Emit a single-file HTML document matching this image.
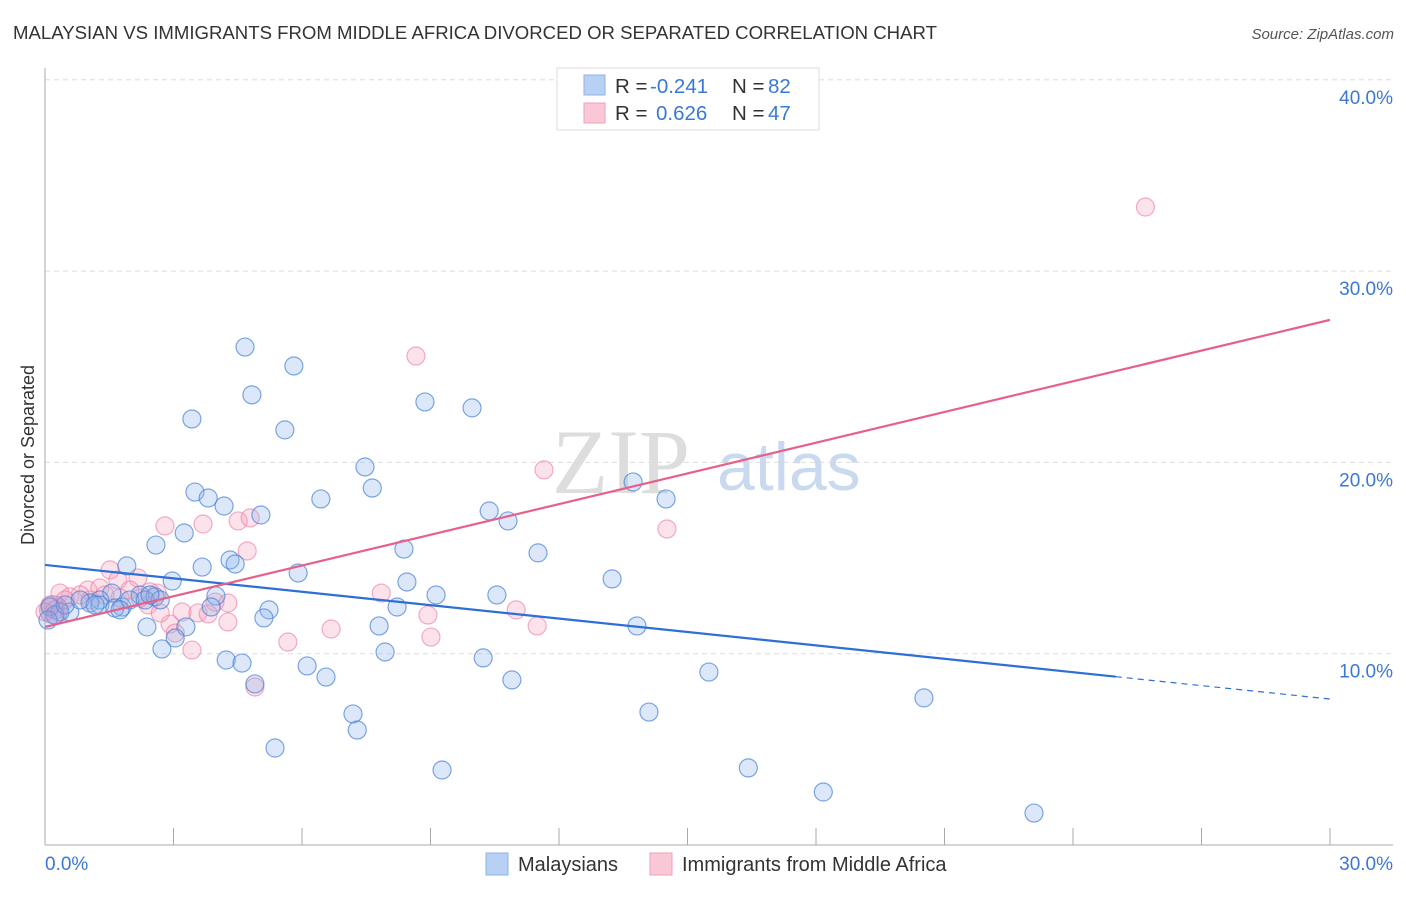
<!DOCTYPE html>
<html><head><meta charset="utf-8"><style>
body{margin:0;background:#fff;font-family:"Liberation Sans",sans-serif;}
svg text{font-family:"Liberation Sans",sans-serif;}
</style></head><body>
<svg id="chart" width="1406" height="892" xmlns="http://www.w3.org/2000/svg">
<text x="13" y="39" font-size="18.6" fill="#333">MALAYSIAN VS IMMIGRANTS FROM MIDDLE AFRICA DIVORCED OR SEPARATED CORRELATION CHART</text>
<text x="1394" y="39" font-size="15" fill="#555" text-anchor="end" font-style="italic">Source: ZipAtlas.com</text>
<g>
<text x="552" y="493" font-size="92" fill="#ddd" font-family="Liberation Serif" style="font-family:'Liberation Serif',serif">ZIP</text>
<text x="717" y="490" font-size="68" fill="#c8d9f0">atlas</text>
</g>
<g id="grid"></g>
<g id="axes"></g>
<text transform="translate(34,455) rotate(-90)" font-size="18" fill="#333" text-anchor="middle">Divorced or Separated</text>
<g id="points"></g>
<g id="lines"></g>
<g>
<rect x="557" y="68" width="262" height="62" fill="#fff" stroke="#ddd"/>
<rect x="584" y="75" width="21" height="20" fill="#b7d0f4" stroke="#8db3e8"/>
<rect x="584" y="103" width="21" height="20" fill="#f9c7d6" stroke="#f0a0b8"/>
<text x="615" y="93" font-size="20.5" fill="#333">R =</text>
<text x="650" y="93" font-size="20.5" fill="#3a78d8">-0.241</text>
<text x="732" y="93" font-size="20.5" fill="#333">N =</text>
<text x="768" y="93" font-size="20.5" fill="#3a78d8">82</text>
<text x="615" y="120" font-size="20.5" fill="#333">R =</text>
<text x="656" y="120" font-size="20.5" fill="#3a78d8">0.626</text>
<text x="732" y="120" font-size="20.5" fill="#333">N =</text>
<text x="768" y="120" font-size="20.5" fill="#3a78d8">47</text>
</g>
<g>
<rect x="486" y="853" width="22" height="22" fill="#b7d0f4" stroke="#8db3e8"/>
<text x="518" y="871" font-size="20" fill="#333">Malaysians</text>
<rect x="650" y="853" width="22" height="22" fill="#f9c7d6" stroke="#f0a0b8"/>
<text x="682" y="871" font-size="20" fill="#333">Immigrants from Middle Africa</text>
</g>
</svg>
<script>
const blueX=[4.67,5.81,4.83,3.43,5.60,8.87,9.97,7.47,3.50,3.81,4.18,7.64,6.44,5.04,10.37,10.81,13.73,14.50,2.59,3.25,11.51,8.38,1.91,3.67,4.32,4.44,5.91,2.97,13.24,8.45,9.13,10.55,3.99,3.88,5.23,5.11,8.22,7.80,13.82,2.38,3.29,3.04,2.73,7.94,4.23,4.60,6.12,6.56,10.23,10.90,15.50,4.90,20.52,7.19,7.29,14.10,5.37,9.27,16.42,18.17,23.09,1.56,2.22,2.57,1.80,1.28,1.05,0.58,0.35,0.12,0.23,1.28,1.98,1.63,2.34,2.69,0.82,0.47,1.17,2.45,0.07,1.75];
const blueY=[26.03,25.04,23.53,22.27,21.70,23.16,22.85,19.76,18.45,18.14,17.72,18.66,18.09,17.25,17.46,16.94,18.98,18.09,15.68,16.31,15.27,15.47,14.59,14.53,14.90,14.69,14.22,13.80,13.91,13.75,13.07,13.07,13.02,12.44,12.29,11.87,12.44,11.45,11.45,11.40,11.40,10.82,10.25,10.09,9.67,9.51,9.36,8.78,9.78,8.63,9.04,8.42,7.69,6.85,6.01,6.95,5.07,3.92,4.03,2.77,1.67,13.17,13.07,12.97,12.44,12.81,12.65,12.18,12.18,12.44,12.02,12.55,12.81,12.39,12.81,12.81,12.81,12.55,12.55,13.07,11.76,12.29];
const pinkX=[25.69,8.66,11.65,14.52,2.80,3.69,4.51,4.79,4.72,1.52,1.70,2.17,1.00,1.28,0.35,0.58,0.12,0.23,0.00,1.98,2.45,2.62,1.05,3.97,4.27,3.20,3.57,3.81,4.27,2.92,3.04,3.43,4.90,5.67,6.68,7.85,8.94,9.01,11.00,11.49,2.41,1.75,0.82,0.47,1.40,2.22,2.69];
const pinkY=[33.35,25.56,19.61,16.52,16.68,16.78,16.94,17.10,15.37,14.38,13.85,13.96,13.33,13.44,13.17,12.97,12.55,12.29,12.18,13.33,13.23,13.17,12.81,12.70,12.65,12.18,12.13,12.08,11.66,11.55,11.08,10.19,8.26,10.61,11.29,13.17,12.02,10.87,12.29,11.45,12.55,12.91,13.07,12.81,13.07,12.91,12.13];
const blueTrend=[14.64,7.63];
const pinkTrend=[11.40,27.45];
const xTickLabels=["0.0%","30.0%"];
const yTicks=[10,20,30,40];
const yTickLabels=["10.0%","20.0%","30.0%","40.0%"];
const NS="http://www.w3.org/2000/svg";
const sx=v=>45+v/30*1285;
const sy=v=>845-v*19.13;
function mk(tag,attrs,parent){const e=document.createElementNS(NS,tag);for(const k in attrs)e.setAttribute(k,attrs[k]);parent.appendChild(e);return e;}
const grid=document.getElementById('grid'),axes=document.getElementById('axes'),pts=document.getElementById('points'),lines=document.getElementById('lines');
yTicks.forEach((t,i)=>{
 const l=mk('line',{x1:45,x2:1393,y1:sy(t),y2:sy(t),stroke:'#ddd','stroke-dasharray':'5,4'},grid);
 
 
 const tx=mk('text',{x:1393,y:sy(t)+24,'font-size':19,fill:'#3a78d8','text-anchor':'end'},axes);
 tx.textContent=yTickLabels[i];
 
 
});
const ya=mk('line',{x1:45,x2:45,y1:68,y2:845,stroke:'#aaa'},axes);


const xa=mk('line',{x1:45,x2:1393,y1:845,y2:845,stroke:'#aaa'},axes);


for(let v=0;v<=30;v+=3){
 const tk=mk('line',{x1:sx(v),x2:sx(v),y1:828,y2:845,stroke:'#aaa'},axes);
 
 
}
[[0,'start'],[30,'end']].forEach((p,i)=>{
 const t=mk('text',{x:i?1393:45,y:870,'font-size':19,fill:'#3a78d8','text-anchor':p[1]},axes);
 t.textContent=xTickLabels[i];
 
 
});
pinkX.forEach((x,i)=>{
 const c=mk('circle',{cx:sx(x),cy:sy(pinkY[i]),r:9,fill:'rgba(244,160,188,0.3)',stroke:'rgba(236,130,165,0.65)','stroke-width':1.2},pts);
 
 
});
blueX.forEach((x,i)=>{
 const c=mk('circle',{cx:sx(x),cy:sy(blueY[i]),r:9,fill:'rgba(140,180,235,0.3)',stroke:'rgba(70,130,215,0.7)','stroke-width':1.2},pts);
 
 
});
const big=mk('circle',{cx:sx(0.2),cy:sy(12.3),r:14,fill:'rgba(170,140,200,0.35)',stroke:'rgba(150,120,190,0.5)'},pts);


const bEnd=25,bMid=blueTrend[0]+(blueTrend[1]-blueTrend[0])*bEnd/30;
const bl=mk('line',{x1:sx(0),y1:sy(blueTrend[0]),x2:sx(bEnd),y2:sy(bMid),stroke:'#2e6fd6','stroke-width':2.2},lines);


const bd=mk('line',{x1:sx(bEnd),y1:sy(bMid),x2:sx(30),y2:sy(blueTrend[1]),stroke:'#2e6fd6','stroke-width':1.2,'stroke-dasharray':'6,5'},lines);


const pl=mk('line',{x1:sx(0),y1:sy(pinkTrend[0]),x2:sx(30),y2:sy(pinkTrend[1]),stroke:'#e8608a','stroke-width':2.2},lines);


</script>
</body></html>
